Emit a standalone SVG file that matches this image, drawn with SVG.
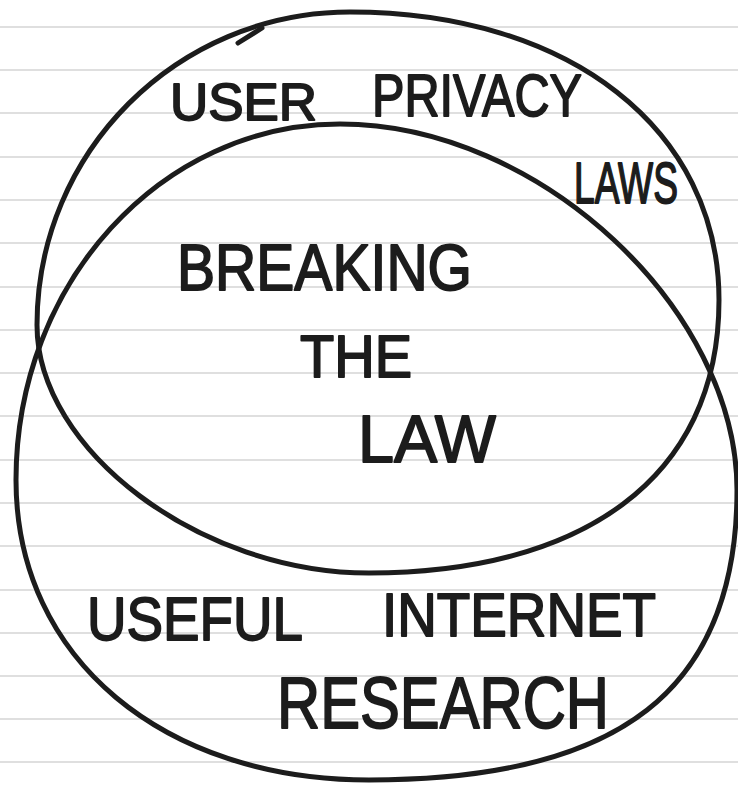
<svg xmlns="http://www.w3.org/2000/svg" width="738" height="786" viewBox="0 0 738 786">
<style>
.rule{stroke:#d4d4d4;stroke-width:1.6}
.loop{fill:none;stroke:#1c1c1c;stroke-width:5;stroke-linecap:round;stroke-linejoin:round}
.hand{font-family:"Liberation Sans","DejaVu Sans",sans-serif;fill:#1c1c1c;stroke:#1c1c1c;stroke-width:1.8;stroke-linejoin:round}
</style>
<rect width="738" height="786" fill="#ffffff"/>
<g id="paper">
<line class="rule" x1="0" y1="27" x2="738" y2="27"/>
<line class="rule" x1="0" y1="70" x2="738" y2="70"/>
<line class="rule" x1="0" y1="113" x2="738" y2="113"/>
<line class="rule" x1="0" y1="157" x2="738" y2="157"/>
<line class="rule" x1="0" y1="200" x2="738" y2="200"/>
<line class="rule" x1="0" y1="243" x2="738" y2="243"/>
<line class="rule" x1="0" y1="287" x2="738" y2="287"/>
<line class="rule" x1="0" y1="330" x2="738" y2="330"/>
<line class="rule" x1="0" y1="373" x2="738" y2="373"/>
<line class="rule" x1="0" y1="416" x2="738" y2="416"/>
<line class="rule" x1="0" y1="460" x2="738" y2="460"/>
<line class="rule" x1="0" y1="503" x2="738" y2="503"/>
<line class="rule" x1="0" y1="546" x2="738" y2="546"/>
<line class="rule" x1="0" y1="590" x2="738" y2="590"/>
<line class="rule" x1="0" y1="633" x2="738" y2="633"/>
<line class="rule" x1="0" y1="676" x2="738" y2="676"/>
<line class="rule" x1="0" y1="719" x2="738" y2="719"/>
<line class="rule" x1="0" y1="762" x2="738" y2="762"/>
</g>
<g id="user-privacy-laws">
<path class="loop" d="M350,12 C570,12 719,130 719,300 C719,480 580,573 369,573 C200,573 37,450 37,325 C37,152 177,12 350,12 Z"/>
<path class="loop" d="M238,43 L262,28"/>
<text class="hand" x="170" y="120" font-size="52" textLength="147" lengthAdjust="spacingAndGlyphs">USER</text>
<text class="hand" x="372" y="116" font-size="60" textLength="210" lengthAdjust="spacingAndGlyphs">PRIVACY</text>
<text class="hand" x="574" y="203" font-size="58" textLength="104" lengthAdjust="spacingAndGlyphs">LAWS</text>
</g>
<g id="useful-internet-research">
<path class="loop" d="M340,124 C540,124 737,310 737,490 C737,690 620,780 369,780 C165,780 16,660 16,480 C16,283 161,124 340,124 Z"/>
<text class="hand" x="87" y="640" font-size="62" textLength="216" lengthAdjust="spacingAndGlyphs">USEFUL</text>
<text class="hand" x="382" y="636" font-size="62" textLength="274" lengthAdjust="spacingAndGlyphs">INTERNET</text>
<text class="hand" x="277" y="728" font-size="72" textLength="332" lengthAdjust="spacingAndGlyphs">RESEARCH</text>
</g>
<g id="breaking-the-law">
<text class="hand" x="177" y="290" font-size="64" textLength="295" lengthAdjust="spacingAndGlyphs">BREAKING</text>
<text class="hand" x="300" y="377" font-size="60" textLength="112" lengthAdjust="spacingAndGlyphs">THE</text>
<text class="hand" x="358" y="462" font-size="66" textLength="138" lengthAdjust="spacingAndGlyphs">LAW</text>
</g>
</svg>
